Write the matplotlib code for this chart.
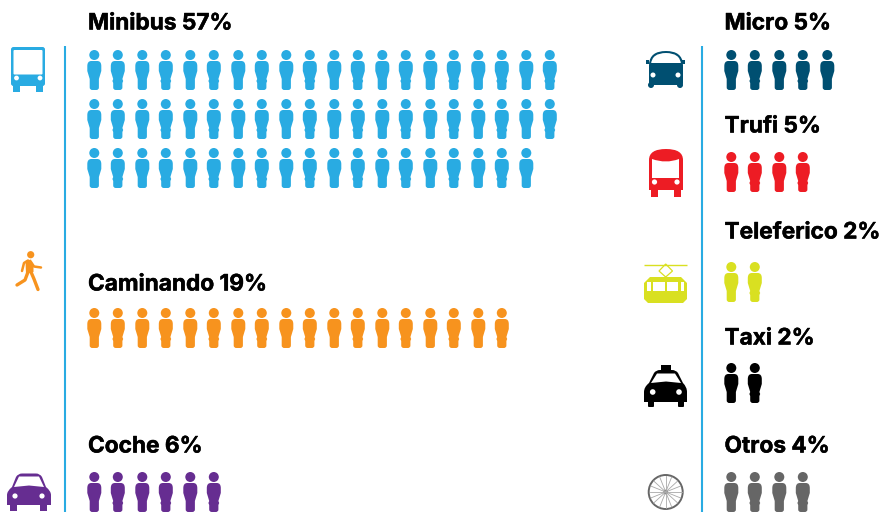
import matplotlib.pyplot as plt
import matplotlib.patches as mpatches
import matplotlib.patheffects as pe
from matplotlib.path import Path
from matplotlib.transforms import Affine2D

# data
left_modes = ["Minibus", "Caminando", "Coche"]
left_shares = [57, 19, 6]
left_rows = [[20, 20, 19], [18], [6]]
right_modes = ["Micro", "Trufi", "Teleferico", "Taxi", "Otros"]
right_shares = [5, 5, 2, 2, 4]
right_rows = [[5], [4], [2], [2], [4]]

blue = "#29ABE2"
orange = "#F7931E"
purple = "#662D91"
navy = "#004F71"
red = "#ED1C24"
yellow = "#D9E021"
grey = "#666666"
black = "#000000"

fig = plt.figure(figsize=(8.82, 5.12), dpi=100, facecolor="white")
ax = fig.add_axes([0, 0, 1, 1])
ax.set_xlim(0, 882)
ax.set_ylim(512, 0)
ax.axis("off")

M, L, C, Z = Path.MOVETO, Path.LINETO, Path.CURVE3, Path.CLOSEPOLY


def person_path(notch):
    # one figure, 40 px tall, x measured from its centre
    half = [(-3, 11), (-7, 11), (-7, 16), (-7, 21), (-4.6, 29)]
    codes = [M, C, C, L, L]
    if notch:
        half += [(-5.4, 31), (-4.6, 33)]
        codes += [L, L]
    half += [(-4.6, 37.5), (-4.6, 40), (-2, 40)]
    codes += [L, C, C]
    back = [(-x, y) for x, y in reversed(half)]
    verts = half + back + [(0, 0)]
    # mirror the outline back up to the neck
    codes = codes + [L] + codes[1:][::-1] + [Z]
    return Path(verts, codes)


def person(x, y, color, notch):
    tr = Affine2D().translate(x, y) + ax.transData
    ax.add_patch(mpatches.PathPatch(person_path(notch), facecolor=color, edgecolor="none", transform=tr))
    ax.add_patch(mpatches.Circle((x, y + 5), 5, facecolor=color, edgecolor="none"))


def people(x0, tops, rows, color):
    for top, n in zip(tops, rows):
        for i in range(n):
            person(x0 + 48 * (i // 2) + 23.5 * (i % 2), top, color, i % 2 == 1)


def label(x, y, mode, share):
    ax.text(x, y, f"{mode} {share}%", fontsize=16.3, fontweight="bold", family="Inter",
            color="black", va="center", ha="left",
            path_effects=[pe.withStroke(linewidth=0.35, foreground="black")])


def box(x0, y0, x1, y1, color, r=0):
    if r:
        p = mpatches.FancyBboxPatch((x0 + r, y0 + r), x1 - x0 - 2 * r, y1 - y0 - 2 * r,
                                    boxstyle=f"round,pad={r},rounding_size={r}",
                                    facecolor=color, edgecolor="none")
    else:
        p = mpatches.Rectangle((x0, y0), x1 - x0, y1 - y0, facecolor=color, edgecolor="none")
    ax.add_patch(p)


def poly(pts, color, **kw):
    ax.add_patch(mpatches.Polygon(pts, closed=True, facecolor=color, edgecolor="none", **kw))


def shape(verts, codes, color):
    ax.add_patch(mpatches.PathPatch(Path(verts, codes), facecolor=color, edgecolor="none"))


def dot(x, y, r, color):
    ax.add_patch(mpatches.Circle((x, y), r, facecolor=color, edgecolor="none"))


# vertical rules
ax.plot([65, 65], [46, 512], color=blue, lw=1.5, solid_capstyle="butt")
ax.plot([702, 702], [46, 512], color=blue, lw=1.5, solid_capstyle="butt")

# left column
left_y = [23.5, 284.5, 446.5]
left_tops = [[50, 99, 148], [308], [472]]
left_colors = [blue, orange, purple]
for mode, share, rows, y, tops, col in zip(left_modes, left_shares, left_rows, left_y, left_tops, left_colors):
    label(88, y, mode, share)
    people(94.3, tops, rows, col)

# right column
right_y = [23.5, 126.5, 232.5, 338.5, 446.5]
right_tops = [50, 152, 262, 363, 472]
right_colors = [navy, red, yellow, black, grey]
for mode, share, rows, y, top, col in zip(right_modes, right_shares, right_rows, right_y, right_tops, right_colors):
    label(724.5, y, mode, share)
    people(731.3, [top], rows, col)

# bus
box(11, 47, 45, 86, blue, 2.5)
box(13.5, 50, 42.5, 74.5, "white", 1)
dot(16.5, 78, 2.4, "white")
dot(40, 78, 2.4, "white")
box(13, 85, 20, 92, blue)
box(36, 85, 43, 92, blue)

# walker
dot(30.7, 254.7, 3.6, orange)
ax.plot([28, 24, 22], [260.5, 263, 271], color=orange, lw=1.8, solid_capstyle="round")
ax.plot([31, 34, 41], [262, 266.5, 267.5], color=orange, lw=1.8, solid_capstyle="round")
poly([(25.5, 261), (31, 259.5), (33.5, 266), (33.5, 272), (26, 274)], orange)
ax.plot([28, 25, 17], [272, 280, 285], color=orange, lw=2.4, solid_capstyle="round")
ax.plot([31, 34, 38], [272, 279, 289.5], color=orange, lw=2.4, solid_capstyle="round")

# car
shape([(7, 495), (7, 491), (12, 487), (16, 477), (18, 473.5), (22, 473.5), (36, 473.5), (40, 473.5), (42, 477), (46, 487),
       (51, 491), (51, 495), (51, 505), (7, 505), (7, 495)],
      [M, C, C, L, C, C, L, C, C, L, C, C, L, L, Z], purple)
poly([(14, 487), (19, 476.5), (39, 476.5), (44, 487), (29, 485.5)], "white")
dot(15, 496, 2.6, "white")
dot(42, 496, 2.6, "white")
box(10, 504, 17, 510.5, purple)
box(40, 504, 47, 510.5, purple)

# micro
shape([(649, 64), (650, 51), (666, 51), (682, 51), (683, 64), (681, 64), (680, 53), (666, 53), (652, 53), (651, 64), (649, 64)],
      [M, C, C, C, C, L, C, C, C, C, Z], navy)
box(649, 63, 683, 85, navy, 2)
box(646, 60, 649, 64, navy)
box(682, 60, 685, 64, navy)
dot(653, 75, 2.5, "white")
dot(678, 75, 2.5, "white")
dot(651, 85, 3, navy)
dot(680, 85, 3, navy)

# trufi
shape([(649, 160), (649, 149), (666, 149), (683, 149), (683, 160), (683, 190), (649, 190), (649, 160)],
      [M, C, C, C, C, L, L, Z], red)
shape([(652, 159), (666, 164), (679, 159), (679, 178), (652, 178), (652, 159)],
      [M, C, C, L, L, Z], "white")
dot(654.5, 182, 2.6, "white")
dot(677, 182, 2.6, "white")
box(651, 189, 657.5, 197, red)
box(674, 189, 680.5, 197, red)

# teleferico
ax.plot([644, 687], [265, 265], color=yellow, lw=1, solid_capstyle="butt")
ax.add_patch(mpatches.Polygon([(665.7, 264), (672.5, 271), (665.7, 277), (659, 271)], closed=True,
                              facecolor="white", edgecolor=yellow, lw=0.9))
poly([(650, 277), (681, 277), (687, 283), (687, 299), (683, 303), (648, 303), (644, 299), (644, 283)], yellow)
for x0, x1 in [(647, 651), (653, 665), (667, 678), (681, 684)]:
    box(x0, 282, x1, 291, "white")

# taxi
box(661, 365, 671, 371, black)
shape([(644, 392), (644, 387), (649, 383), (654, 373), (656, 370), (660, 370), (672, 370), (676, 370), (678, 373), (683, 383),
       (687, 387), (687, 392), (687, 402), (644, 402), (644, 392)],
      [M, C, C, L, C, C, L, C, C, L, C, C, L, L, Z], black)
poly([(651, 383), (657, 373.5), (675, 373.5), (681, 383), (666, 381.5)], "white")
dot(652.7, 392, 2.8, "white")
dot(679, 392, 2.8, "white")
box(648, 400, 654, 407, black, 1)
box(678, 400, 684, 407, black, 1)

# wheel
spoke_ends = [(-16, 0), (-15, 6), (-12, 11), (-6, 15), (0, 16), (6, 15), (12, 11), (15, 6),
              (16, 0), (15, -6), (12, -11), (6, -15), (0, -16), (-6, -15), (-12, -11), (-15, -6)]
for dx, dy in spoke_ends:
    ax.plot([665.7, 665.7 + dx], [492, 492 + dy], color="#A8A8A8", lw=0.6)
ax.add_patch(mpatches.Circle((665.7, 492), 17, facecolor="none", edgecolor=grey, lw=1.4))
dot(665.7, 492, 2.3, grey)

fig.savefig("out.png", dpi=100, facecolor="white")
plt.close(fig)
